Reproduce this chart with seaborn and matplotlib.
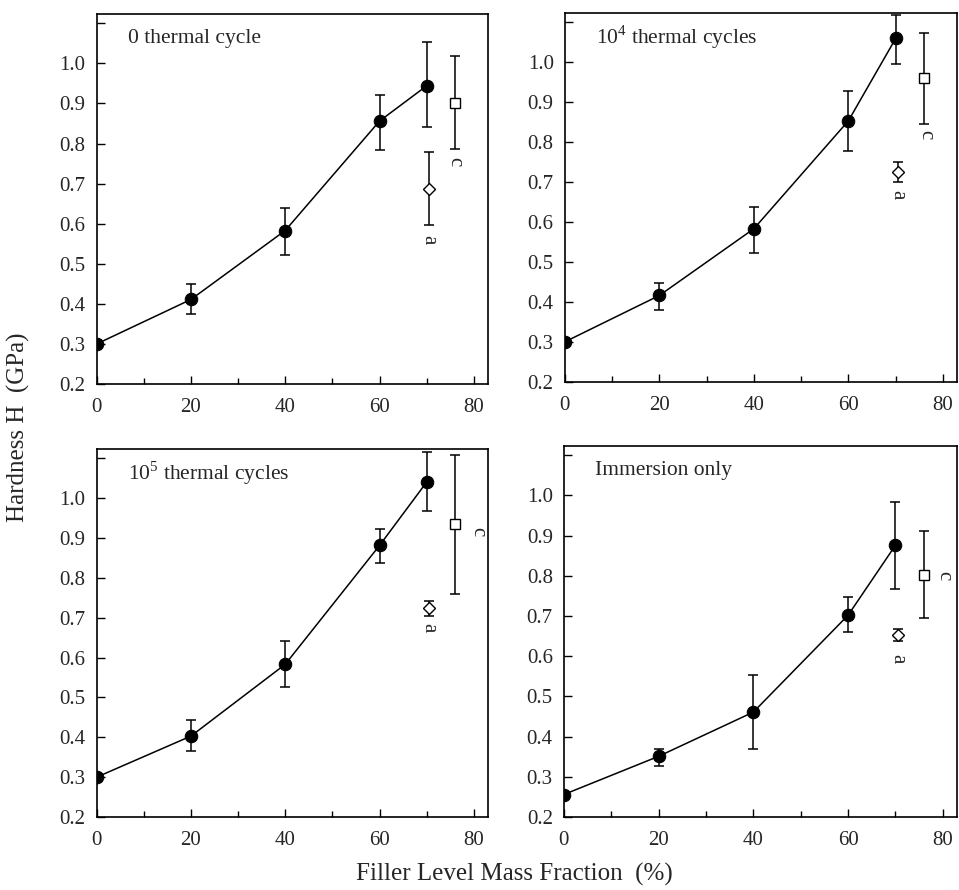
import matplotlib
matplotlib.use("Agg")
import matplotlib.pyplot as plt
import seaborn as sns
import pandas as pd

# filler level (mass fraction, %)
filler = [0, 20, 40, 60, 70]

panel_titles = ["0 thermal cycle", "10$^{4}$ thermal cycles",
                "10$^{5}$ thermal cycles", "Immersion only"]

# hardness H (GPa) of the filled series, with error bar ends
hard_0 = [0.300, 0.411, 0.583, 0.856, 0.944]
hard_0_lo = [0.290, 0.375, 0.521, 0.785, 0.840]
hard_0_hi = [0.310, 0.450, 0.639, 0.921, 1.054]

hard_1e4 = [0.300, 0.416, 0.583, 0.853, 1.059]
hard_1e4_lo = [0.290, 0.379, 0.523, 0.778, 0.994]
hard_1e4_hi = [0.310, 0.448, 0.637, 0.928, 1.117]

hard_1e5 = [0.300, 0.403, 0.583, 0.881, 1.040]
hard_1e5_lo = [0.290, 0.366, 0.526, 0.838, 0.967]
hard_1e5_hi = [0.310, 0.443, 0.641, 0.923, 1.116]

hard_imm = [0.256, 0.351, 0.461, 0.702, 0.876]
hard_imm_lo = [0.248, 0.327, 0.370, 0.660, 0.766]
hard_imm_hi = [0.264, 0.370, 0.552, 0.746, 0.984]

# comparison materials "a" (diamond) and "c" (square): value, low, high
mat_a = [[0.687, 0.598, 0.780], [0.726, 0.699, 0.751],
         [0.724, 0.705, 0.741], [0.652, 0.638, 0.668]]
mat_c = [[0.900, 0.787, 1.019], [0.959, 0.846, 1.073],
         [0.935, 0.759, 1.108], [0.801, 0.695, 0.911]]
a_filler = 70.5
c_filler = 76

series = [(hard_0, hard_0_lo, hard_0_hi), (hard_1e4, hard_1e4_lo, hard_1e4_hi),
          (hard_1e5, hard_1e5_lo, hard_1e5_hi), (hard_imm, hard_imm_lo, hard_imm_hi)]

# label spots for the "a" / "c" markers (x, y)
a_label_pos = [(70.5, 0.559), (70.5, 0.668), (70.5, 0.674), (70.5, 0.594)]
c_label_pos = [(76.0, 0.755), (76.3, 0.818), (80.8, 0.915), (80.2, 0.800)]

sns.set_theme(style="ticks")
plt.rcParams["font.family"] = ["Liberation Serif", "DejaVu Serif"]
plt.rcParams["mathtext.fontset"] = "custom"
plt.rcParams["mathtext.rm"] = "Liberation Serif"

fig = plt.figure(figsize=(9.59, 8.90), dpi=100)
ax_rects = [[0.1008, 0.5685, 0.408, 0.4157],
            [0.589, 0.571, 0.409, 0.4145],
            [0.1008, 0.082, 0.408, 0.4135],
            [0.588, 0.082, 0.410, 0.417]]

for i, rect in enumerate(ax_rects):
    ax = fig.add_axes(rect)
    h, lo, hi = series[i]
    df = pd.DataFrame({"filler": filler, "H": h})

    ax.errorbar(filler, h, yerr=[[v - l for v, l in zip(h, lo)], [u - v for v, u in zip(h, hi)]],
                fmt="none", ecolor="black", elinewidth=1.1, capsize=3.5, capthick=1.1, zorder=2)
    sns.lineplot(data=df, x="filler", y="H", ax=ax, color="black", linewidth=1.1,
                 marker="o", markersize=9, markeredgecolor="black", zorder=3)

    av, alo, ahi = mat_a[i]
    ax.errorbar([a_filler], [av], yerr=[[av - alo], [ahi - av]], fmt="D", color="black",
                mfc="white", mec="black", markersize=6, elinewidth=1.1, capsize=3.5,
                capthick=1.1, zorder=3)
    cv, clo, chi = mat_c[i]
    ax.errorbar([c_filler], [cv], yerr=[[cv - clo], [chi - cv]], fmt="s", color="black",
                mfc="white", mec="black", markersize=7, elinewidth=1.1, capsize=3.5,
                capthick=1.1, zorder=3)

    ax.text(*a_label_pos[i], "a", rotation=-90, ha="center", va="center", fontsize=15)
    ax.text(*c_label_pos[i], "c", rotation=-90, ha="center", va="center", fontsize=15)

    ax.text(0.08, 0.935, panel_titles[i], transform=ax.transAxes, ha="left",
            va="center", fontsize=15.5)

    ax.set_xlim(0, 83)
    ax.set_ylim(0.2, 1.123)
    ax.set_xticks([0, 20, 40, 60, 80])
    ax.set_xticks([10, 30, 50, 70], minor=True)
    yt = [0.2, 0.3, 0.4, 0.5, 0.6, 0.7, 0.8, 0.9, 1.0, 1.1]
    ax.set_yticks(yt)
    ax.set_yticklabels([f"{v:.1f}" for v in yt[:-1]] + [""])
    ax.tick_params(which="both", direction="in", top=False, right=False,
                   labelsize=15, width=1, color="black")
    ax.tick_params(which="major", length=6)
    ax.tick_params(which="minor", length=4.5)
    ax.tick_params(axis="x", which="major", pad=10)
    ax.tick_params(axis="y", which="major", pad=8)
    ax.set_xlabel("")
    ax.set_ylabel("")
    for s in ax.spines.values():
        s.set_linewidth(1.2)
        s.set_color("black")

fig.text(0.019, 0.52, "Hardness H  (GPa)", rotation=90, ha="center", va="center",
         fontsize=18)
fig.text(0.536, 0.017, "Filler Level Mass Fraction  (%)", ha="center", va="center",
         fontsize=18)

fig.savefig("out.png", dpi=100)
